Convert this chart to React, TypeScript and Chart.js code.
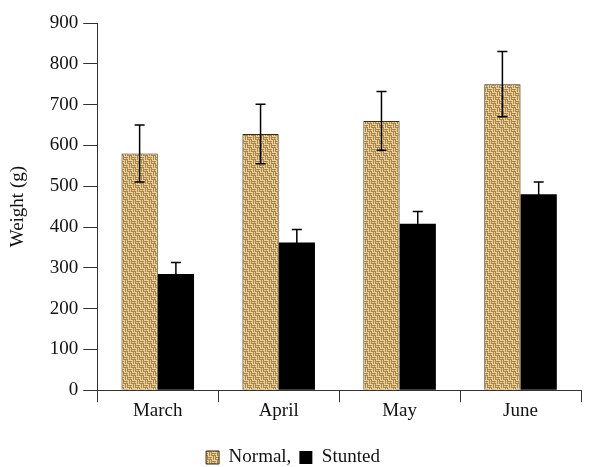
import React, { useEffect, useRef } from "react";
import { Chart, registerables } from "chart.js";

Chart.register(...registerables);

const categories = ["March", "April", "May", "June"];
const normalValues = [580, 628, 660, 750];
const normalErrors = [70, 73, 72, 80];
const stuntedValues = [285, 362, 408, 480];
const stuntedErrors = [28, 32, 30, 30];
const yTicks = [0, 100, 200, 300, 400, 500, 600, 700, 800, 900];

function makePattern(): CanvasPattern | string {
  const c = document.createElement("canvas");
  c.width = 8;
  c.height = 8;
  const g = c.getContext("2d");
  if (!g) return "#d2b57e";
  g.fillStyle = "#ead29c";
  g.fillRect(0, 0, 8, 8);
  g.fillStyle = "#a98246";
  g.fillRect(0, 1, 4, 1);
  g.fillRect(0, 3, 4, 1);
  g.fillRect(5, 0, 1, 4);
  g.fillRect(7, 0, 1, 4);
  g.fillRect(4, 5, 4, 1);
  g.fillRect(4, 7, 4, 1);
  g.fillRect(1, 4, 1, 4);
  g.fillRect(3, 4, 1, 4);
  g.fillStyle = "#c4a062";
  g.fillRect(2, 2, 1, 1);
  g.fillRect(6, 6, 1, 1);
  const p = g.createPattern(c, "repeat");
  return p || "#d2b57e";
}

const errorBarPlugin = {
  id: "errorBars",
  afterDatasetsDraw(chart: any) {
    const ctx = chart.ctx;
    const yScale = chart.scales.y;
    const errs = [normalErrors, stuntedErrors];
    ctx.save();
    ctx.strokeStyle = "#000";
    ctx.lineWidth = 1.5;
    chart.data.datasets.forEach((ds: any, di: number) => {
      const meta = chart.getDatasetMeta(di);
      meta.data.forEach((bar: any, i: number) => {
        const v = ds.data[i];
        const e = errs[di][i];
        const x = bar.x;
        const yTop = yScale.getPixelForValue(v + e);
        const yBot = yScale.getPixelForValue(v - e);
        ctx.beginPath();
        ctx.moveTo(x, yTop);
        ctx.lineTo(x, yBot);
        ctx.moveTo(x - 5, yTop);
        ctx.lineTo(x + 5, yTop);
        ctx.moveTo(x - 5, yBot);
        ctx.lineTo(x + 5, yBot);
        ctx.stroke();
      });
    });
    ctx.restore();
  },
};

export default function App() {
  const ref = useRef<HTMLCanvasElement | null>(null);
  useEffect(() => {
    if (!ref.current) return;
    const pattern = makePattern();
    const font = { family: "'Liberation Serif', 'Times New Roman', serif", size: 19 };
    const chart = new Chart(ref.current, {
      type: "bar",
      data: {
        labels: categories,
        datasets: [
          {
            label: "Normal,",
            data: normalValues,
            backgroundColor: pattern as any,
            borderColor: "#3a2a10",
            borderWidth: 1,
            categoryPercentage: 0.6,
            barPercentage: 1,
          },
          {
            label: "Stunted",
            data: stuntedValues,
            backgroundColor: "#000000",
            borderColor: "#000000",
            borderWidth: 0,
            categoryPercentage: 0.6,
            barPercentage: 1,
          },
        ],
      },
      options: {
        animation: false,
        responsive: false,
        maintainAspectRatio: false,
        layout: { padding: { top: 23, right: 24, left: 5, bottom: -10 } },
        plugins: {
          tooltip: { enabled: false },
          legend: {
            position: "bottom",
            labels: {
              font,
              color: "#111",
              boxWidth: 13,
              boxHeight: 13,
              padding: 8,
            },
          },
        },
        scales: {
          x: {
            grid: {
              drawOnChartArea: false,
              drawTicks: true,
              tickLength: 12,
              color: "#333",
              offset: true,
            },
            border: { color: "#333", width: 1 },
            ticks: { font, color: "#111", padding: -3 },
            afterFit: (axis: any) => {
              axis.height += 21;
            },
          },
          y: {
            min: 0,
            max: 900,
            afterBuildTicks: (axis: any) => {
              axis.ticks = yTicks.map((v) => ({ value: v }));
            },
            grid: {
              drawOnChartArea: false,
              drawTicks: true,
              tickLength: 14,
              color: "#333",
            },
            border: { color: "#333", width: 1 },
            ticks: { font, color: "#111", padding: 5 },
            title: {
              display: true,
              text: "Weight (g)",
              font,
              color: "#111",
              padding: { top: 2, bottom: 15 },
            },
          },
        },
      },
      plugins: [errorBarPlugin],
    });
    return () => chart.destroy();
  }, []);
  return (
    <div style={{ position: "fixed", left: 0, top: 0, width: 605, height: 467, background: "#fff" }}>
      <canvas ref={ref} width={605} height={467} style={{ width: 605, height: 467 }} />
    </div>
  );
}
